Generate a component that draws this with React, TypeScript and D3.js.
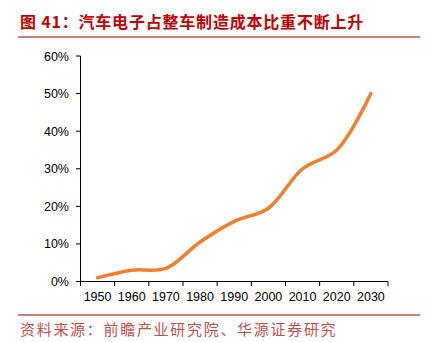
import React from "react";
import * as d3 from "d3";

const years = ["1950", "1960", "1970", "1980", "1990", "2000", "2010", "2020", "2030"];
const shares = [1, 3, 3.5, 10.5, 16, 19.5, 30, 35, 50];
const yTicks = [0, 10, 20, 30, 40, 50, 60];
const titleText = "图 41：汽车电子占整车制造成本比重不断上升";
const sourceText = "资料来源：前瞻产业研究院、华源证券研究";

const W = 429;
const H = 342;

export default function App() {
  const x = d3.scaleBand<string>().domain(years).range([80.5, 388]).padding(0);
  const y = d3.scaleLinear().domain([0, 60]).range([281.5, 56]);
  const line = d3
    .line<number>()
    .x((_, i) => (x(years[i]) as number) + x.bandwidth() / 2)
    .y((d) => y(d))
    .curve(d3.curveCatmullRom.alpha(0.5));
  const font = "'Liberation Sans', Arial, sans-serif";
  const cjk = "'Noto Sans CJK SC', sans-serif";
  const xTickPos = years.map((yr) => x(yr) as number).concat([388]);
  return (
    <svg width={W} height={H} style={{ position: "absolute", left: 0, top: 0, background: "#fff" }}>
      <text x={20} y={28} fontFamily={cjk} fontWeight={700} fontSize={16} letterSpacing={0.8} fill="#C00000">
        {titleText}
      </text>
      <line x1={18} x2={420} y1={37} y2={37} stroke="#C0504D" strokeWidth={1.5} />
      {/* y axis */}
      <line x1={80.5} x2={80.5} y1={56} y2={281.5} stroke="#000" strokeWidth={1} />
      {yTicks.map((t) => (
        <g key={t}>
          <line x1={76} x2={80.5} y1={y(t)} y2={y(t)} stroke="#000" />
          <text x={69} y={y(t) + 4.5} textAnchor="end" fontFamily={font} fontSize={12.5} fill="#000">
            {t + "%"}
          </text>
        </g>
      ))}
      {/* x axis */}
      <line x1={80.5} x2={388} y1={281.5} y2={281.5} stroke="#000" />
      {xTickPos.map((p, i) => (
        <line key={i} x1={p} x2={p} y1={281.5} y2={286} stroke="#000" />
      ))}
      {years.map((yr) => (
        <text
          key={yr}
          x={(x(yr) as number) + x.bandwidth() / 2}
          y={300.5}
          textAnchor="middle"
          fontFamily={font}
          fontSize={12.5}
          fill="#000"
        >
          {yr}
        </text>
      ))}
      <path d={line(shares) || ""} fill="none" stroke="#F0802F" strokeWidth={3.5} strokeLinecap="round" />
      <line x1={18} x2={420} y1={315} y2={315} stroke="#C0504D" strokeWidth={1.5} />
      <text x={20} y={335} fontFamily={cjk} fontSize={15} letterSpacing={1.7} fill="#C0504D">
        {sourceText}
      </text>
    </svg>
  );
}
